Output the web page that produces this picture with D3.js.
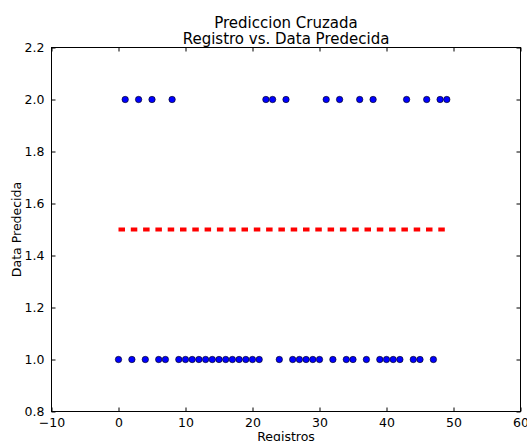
<!DOCTYPE html>
<html><head><meta charset="utf-8">
<script src="https://cdn.jsdelivr.net/npm/d3@7"></script>
<style>body{margin:0;background:#fff}svg{display:block}text{font-family:"DejaVu Sans",sans-serif;fill:#000}</style>
</head><body><svg id="c" width="527" height="441"></svg>
<script>
const registros = d3.range(0, 50);
const predecida = [1,2,1,2,1,2,1,1,2,1,1,1,1,1,1,1,1,1,1,1,1,1,2,2,1,2,1,1,1,1,1,2,1,2,1,1,2,1,2,1,1,1,1,2,1,1,2,1,2,2];
const umbralX = [0, 49];
const umbralY = [1.5, 1.5];
const xTicks = [-10,0,10,20,30,40,50,60];
const yTicks = [0.8,1.0,1.2,1.4,1.6,1.8,2.0,2.2];
const titleLines = ["Prediccion Cruzada", "Registro vs. Data Predecida"];

const svg = d3.select("#c");
const L=51.5, R=520.5, T=47.5, B=411.5;
const x = d3.scaleLinear().domain([-10,60]).range([L,R]);
const y = d3.scaleLinear().domain([0.8,2.2]).range([B,T]);

// dashed line
svg.append("path").datum(umbralX.map((v,i)=>[v,umbralY[i]]))
  .attr("d", d3.line().x(d=>x(d[0])).y(d=>y(d[1])))
  .attr("stroke","#ff0000").attr("stroke-width",4).attr("fill","none")
  .attr("stroke-dasharray","6.5,5.8");

// points
svg.append("g").selectAll("circle").data(registros).join("circle")
  .attr("cx",d=>x(d)).attr("cy",(d,i)=>y(predecida[i])).attr("r",3.2)
  .attr("fill","#0000ff").attr("stroke","#000").attr("stroke-width",0.6);

// axes (ticks inward on all sides)
const fmtY = d3.format(".1f");
const ax = (g, axis) => { g.call(axis); g.select(".domain").remove(); g.selectAll("text").style("font-size","12.5px").style("font-family","DejaVu Sans"); g.selectAll("line").attr("stroke","#000"); };
svg.append("g").attr("transform",`translate(0,${B})`).call(g=>ax(g, d3.axisBottom(x).tickValues(xTicks).tickSizeInner(-4).tickSizeOuter(0).tickPadding(7).tickFormat(d=>d<0?"\u2212"+Math.abs(d):d)));
svg.append("g").attr("transform",`translate(0,${T})`).call(g=>{ax(g, d3.axisTop(x).tickValues(xTicks).tickSizeInner(-4).tickSizeOuter(0)); g.selectAll("text").remove();});
svg.append("g").attr("transform",`translate(${L},0)`).call(g=>ax(g, d3.axisLeft(y).tickValues(yTicks).tickSizeInner(-4).tickSizeOuter(0).tickPadding(7).tickFormat(fmtY)));
svg.append("g").attr("transform",`translate(${R},0)`).call(g=>{ax(g, d3.axisRight(y).tickValues(yTicks).tickSizeInner(-4).tickSizeOuter(0)); g.selectAll("text").remove();});

svg.append("rect").attr("x",L).attr("y",T).attr("width",R-L).attr("height",B-T)
  .attr("fill","none").attr("stroke","#000").attr("stroke-width",1);

// titles
svg.append("g").selectAll("text").data(titleLines).join("text")
  .attr("x",(L+R)/2).attr("y",(d,i)=>27.5+i*16.5).attr("text-anchor","middle")
  .style("font-size","15px").text(d=>d);
svg.append("text").attr("x",(L+R)/2).attr("y",441).attr("text-anchor","middle").style("font-size","12.5px").text("Registros");
svg.append("text").attr("transform",`translate(21,${(T+B)/2}) rotate(-90)`).attr("text-anchor","middle").style("font-size","12.5px").text("Data Predecida");
</script></body></html>
